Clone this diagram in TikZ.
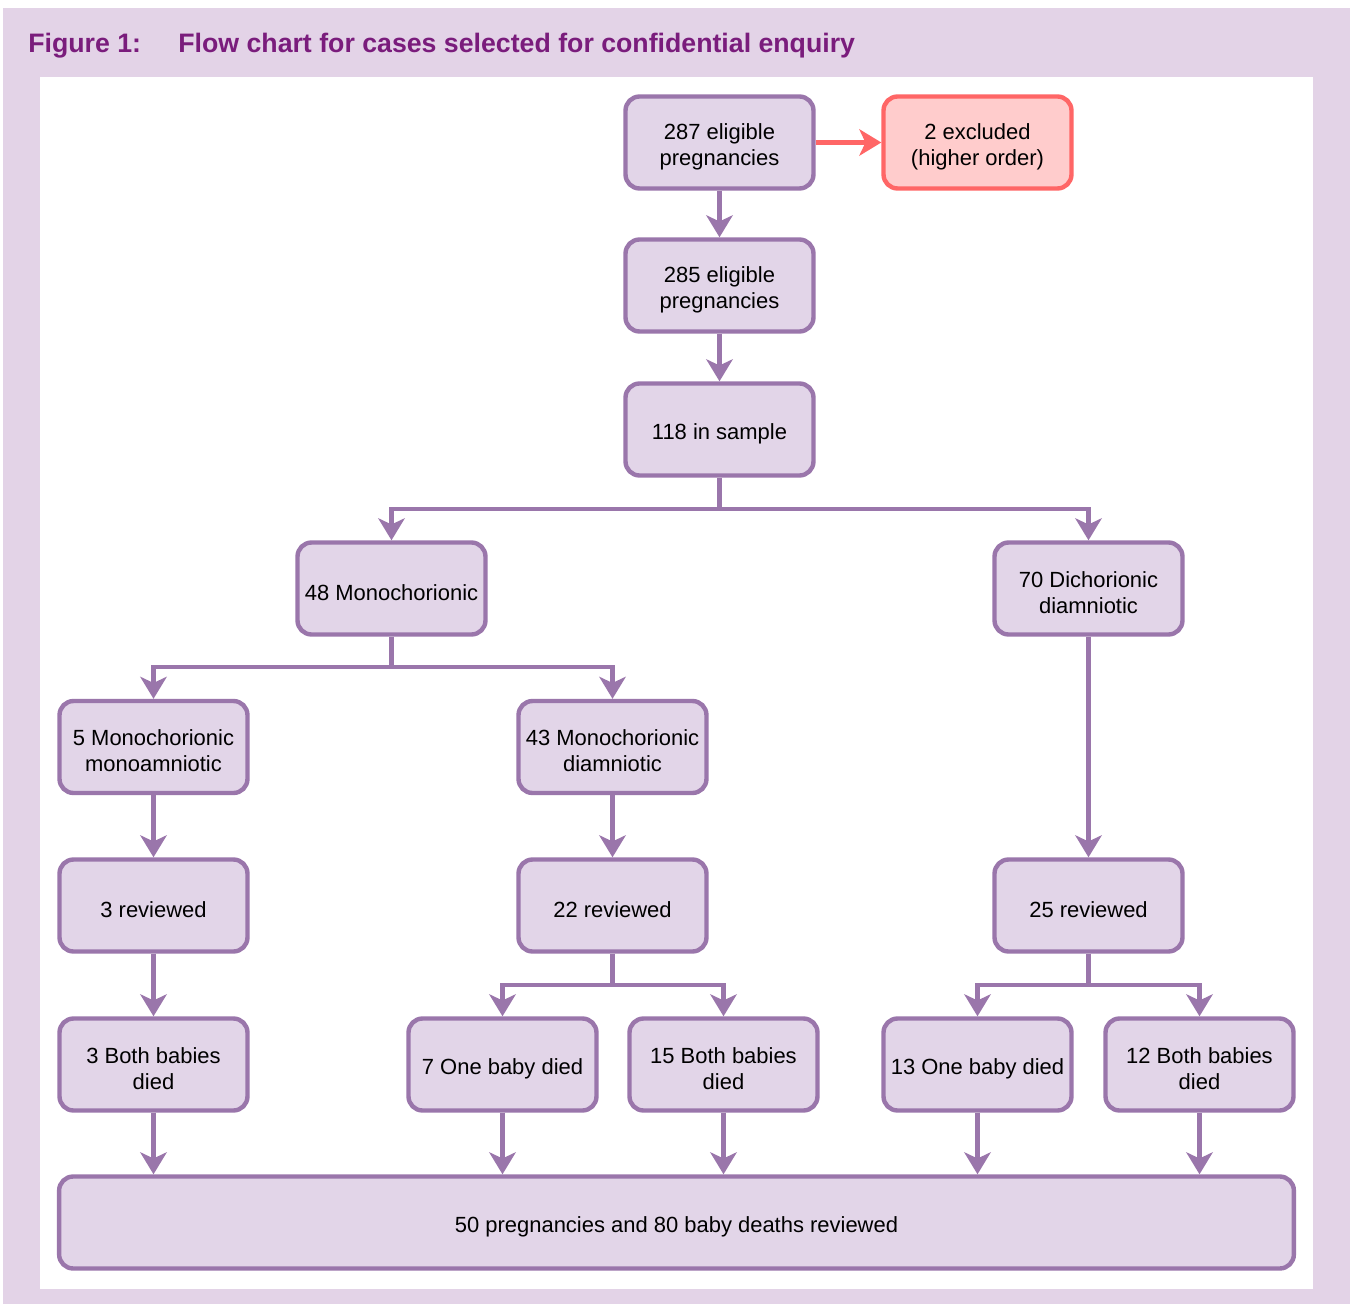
\documentclass[tikz,border=0pt]{standalone}
\usepackage{fontspec}
\setmainfont{Liberation Sans}
\usetikzlibrary{arrows.meta}

\definecolor{framebg}{HTML}{E3D3E7}
\definecolor{boxfill}{HTML}{E2D5E8}
\definecolor{boxline}{HTML}{9A76AB}
\definecolor{titlecol}{HTML}{7A1C7C}
\definecolor{exfill}{HTML}{FFCCCC}
\definecolor{exline}{HTML}{FF6666}

% invisible strut that lowers the text a little in its box
\newcommand{\liftstrut}{\rule{0pt}{13.6pt}}

\begin{document}
\begin{tikzpicture}[x=0.02cm,y=-0.02cm,
	stagebox/.style={draw=boxline,fill=boxfill,line width=2.5pt,rounded corners=8pt,
		minimum width=3.76cm,minimum height=1.84cm,align=center,inner sep=2pt,
		font=\fontsize{12.5}{14.7}\selectfont},
	exbox/.style={stagebox,draw=exline,fill=exfill},
	link/.style={draw=boxline,line width=2.5pt},
	arr/.style={link,-{Stealth[length=12.5pt,width=15pt,inset=3.5pt]}},
	exarr/.style={arr,draw=exline},
	titletext/.style={anchor=base west,inner sep=0,text=titlecol,
		font=\fontsize{15.2}{17}\selectfont\bfseries}]
	\useasboundingbox (0,0) rectangle (1350,1304);
	
	%frame
	\fill[framebg] (3,8) rectangle (1350,1304);
	\fill[white] (40,77) rectangle (1313,1289);
	
	%title
	\node[titletext] (fig) at (28,53) {Figure 1:};
	\node[titletext] (caption) at (178,53) {Flow chart for cases selected for confidential enquiry};
	
	%boxes
	\node[stagebox] (elig) at (719.5,142.5) {\liftstrut 287 eligible\\pregnancies};
	\node[exbox] (excl) at (977.5,142.5) {\liftstrut 2 excluded\\(higher order)};
	\node[stagebox] (elig2) at (719.5,285.5) {\liftstrut 285 eligible\\pregnancies};
	\node[stagebox] (sample) at (719.5,429.5) {\liftstrut 118 in sample};
	\node[stagebox] (mono) at (391.5,588.5) {\liftstrut 48 Monochorionic};
	\node[stagebox] (dicho) at (1088.5,588.5) {\liftstrut 70 Dichorionic\\diamniotic};
	\node[stagebox] (monoam) at (153.5,747) {\liftstrut 5 Monochorionic\\monoamniotic};
	\node[stagebox] (monodi) at (612.5,747) {\liftstrut 43 Monochorionic\\diamniotic};
	\node[stagebox] (revA) at (153.5,905.5) {\liftstrut 3 reviewed};
	\node[stagebox] (revB) at (612.5,905.5) {\liftstrut 22 reviewed};
	\node[stagebox] (revC) at (1088.5,905.5) {\liftstrut 25 reviewed};
	\node[stagebox] (bothA) at (153.5,1064.5) {\liftstrut 3 Both babies\\died};
	\node[stagebox] (oneB) at (502.5,1064.5) {\liftstrut 7 One baby died};
	\node[stagebox] (bothB) at (723.5,1064.5) {\liftstrut 15 Both babies\\died};
	\node[stagebox] (oneC) at (977.5,1064.5) {\liftstrut 13 One baby died};
	\node[stagebox] (bothC) at (1199.5,1064.5) {\liftstrut 12 Both babies\\died};
	\node[stagebox,minimum width=24.7cm] (total) at (676.5,1222.5) {\liftstrut 50 pregnancies and 80 baby deaths reviewed};
	
	%junctions
	\coordinate (jsample) at (719.5,509);
	\coordinate (jmono) at (391.5,667);
	\coordinate (jrevB) at (612.5,985);
	\coordinate (jrevC) at (1088.5,985);
	
	%arrows
	\draw[exarr] (elig.east) -- (excl.west);
	\draw[arr] (elig) -- (elig2);
	\draw[arr] (elig2) -- (sample);
	\draw[link] (sample.south) -- (jsample);
	\draw[arr] (jsample) -| (mono.north);
	\draw[arr] (jsample) -| (dicho.north);
	\draw[link] (mono.south) -- (jmono);
	\draw[arr] (jmono) -| (monoam.north);
	\draw[arr] (jmono) -| (monodi.north);
	\draw[arr] (dicho) -- (revC);
	\draw[arr] (monoam) -- (revA);
	\draw[arr] (monodi) -- (revB);
	\draw[arr] (revA) -- (bothA);
	\draw[link] (revB.south) -- (jrevB);
	\draw[arr] (jrevB) -| (oneB.north);
	\draw[arr] (jrevB) -| (bothB.north);
	\draw[link] (revC.south) -- (jrevC);
	\draw[arr] (jrevC) -| (oneC.north);
	\draw[arr] (jrevC) -| (bothC.north);
	\foreach \src in {bothA,oneB,bothB,oneC,bothC}
		\draw[arr] (\src.south) -- (\src.south |- total.north);
\end{tikzpicture}
\end{document}
